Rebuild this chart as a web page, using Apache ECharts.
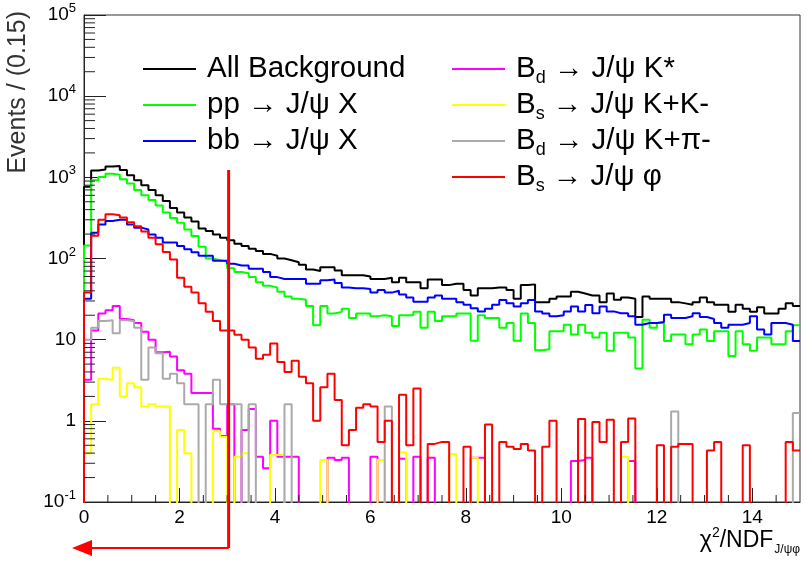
<!DOCTYPE html>
<html><head><meta charset="utf-8">
<script src="https://cdn.jsdelivr.net/npm/echarts@6/dist/echarts.min.js"></script>
<style>html,body{margin:0;padding:0;background:#fff}#c{width:806px;height:561px}</style>
</head><body><div id="c"></div>
<script>
// ---- data ----
const binWidth = 0.15;           // Events / (0.15)
const xMin = 0, xMax = 15;
const yMin = 0.1, yMax = 100000;
const xTickLabels = ['0','2','4','6','8','10','12','14'];
const yTickLabels = ['10^-1','1','10','10^2','10^3','10^4','10^5'];
const seriesNames = ['All Background','pp → J/ψ X','bb → J/ψ X','Bd → J/ψ K*','Bs → J/ψ K+K-','Bd → J/ψ K+π-','Bs → J/ψ φ'];

const allBackground = [764,1217,1250,1360,1380,1230,1060,921,800,700,
  600,510,420,370,320,285,235,218,198,180,
  168,152,143,132,124,114,108,100,95,90,
  84,73,70,78,78,71,62,62,62,60,
  56,56,58,51,58,51,51,43,55,55,
  47,49,49,41,35,43,43,44,44,41,
  32,47,48,29,29,32,34,34,39,37,
  35,35,29,37,31,33,32,19,34,32,
  32,32,29,28,27,29,33,29,27,27,
  22,27,24,22,25,21,21,24,28,26];
const ppJpsiX = [145,920,1010,1110,1080,950,840,700,600,527,
  450,370,315,275,228,189,140,100,95,92,
  76,68,66,59,51,46,44,39,34,32,
  31,26,15,26,21,22,24,18.5,21,21,
  19.5,20,19.4,14.7,20,20,22,14,22,17,
  19.5,19.5,21,21,9.7,20,18.5,18.5,14,16,
  9.7,21,16,7.4,7.6,12.7,12.7,15.3,11.6,15.3,
  12.2,10.6,12.2,7.3,12.2,12.2,10.6,4.4,17.6,14,
  16,9.6,11.6,11.6,8.8,11.6,13.3,9.6,12.7,12.7,
  6.3,12.7,8.8,7.3,10.6,10.6,8.8,8.8,12.7,15];
const bbJpsiX = [32,208,262,290,301,301,262,240,228,198,
  180,157,157,143,130,119,108,108,94,94,
  86,82,82,75,75,68,59,56,56,56,
  56,49,49,54,55,50,44,43,43,42,
  38,41,38,40,36,33,29.4,29.4,33,35,
  32,32,29,27,24.4,22.3,24,27,30.8,28,
  25.6,28,30.8,22.3,21,19.4,20,22.3,25.6,22.3,
  26.8,21.2,25.6,22.3,21.2,21.2,19.4,15.3,16,16,
  16.5,20.3,18.5,18.5,19.4,21.2,19,18,16,14,
  15.3,15.3,16,19.4,13.3,11.6,16,16,15.3,9.6];
const bdJpsiKstar = [3.2,13,21,23,26,18,17.4,16,12.5,10,
  7,7.1,6.2,4.2,3.8,2.2,2.2,2.2,0.8,0.65,
  1.6,0,0.77,1.4,0.36,0.26,1.0,0.36,0.36,0.36,
  0,0,0,0,0.35,0.33,0.35,0,0,0,
  0.36,0,0,0,0.34,0,0.36,0,0.35,0,
  0,0,0,0,0.35,0.35,0,0,0,0,
  0,0,0,0,0,0,0,0,0.32,0.33,
  0.35,0,0,0,0,0,0.32,0,0,0,
  0,0,0,0,0,0,0,0,0,0,
  0,0,0,0,0,0,0,0,0,0];
const bsJpsiKK = [0.4,1.6,3.3,3.2,4.5,2.0,2.9,2.6,1.5,1.6,
  1.5,1.5,0,0.77,0.4,0,0,0,0.75,0.63,
  0,0.36,0.4,0,0,0,0.38,0.38,0,0,
  0,0,0,0.33,0,0,0,0,0,0,
  0,0.33,0,0,0.41,0,0,0,0,0,
  0,0.39,0,0,0.35,0,0,0,0,0,
  0,0,0,0,0,0,0,0,0,0,
  0,0,0,0,0,0.36,0,0,0,0,
  0,0,0,0,0,0,0,0,0,0,
  0,0,0,0,0,0,0,0,0,0];
const bdJpsiKpi = [10,14,17,17.4,12,17.4,17,14,3.2,8,
  6.8,3.3,3.8,2.9,1.6,1.6,0,1.6,3.2,1.6,
  1.6,1.6,0,1.6,0,0,0,0,1.6,0,
  0,0,0,0,0,0,0,0,0,0,
  0,0,1.5,0,0,0,0,0,0,0,
  0,0,0,0,0,0,0,0,0,0,
  0,0,0,0,0,0,0,0,0,0,
  0,0,0,0,0,0,0,0,0,0,
  0,0,1.3,0,0,0,0,0,0,0,
  0,0,0,0,0,0,0,0,0,1.25];
const bsJpsiPhi = [38,190,300,350,340,320,280,250,215,180,
  150,120,97,58,45,38,28,22,17,13,
  13,11.5,10,8,5.8,6.5,9,5.3,4.0,5.5,
  3.5,2.9,1.0,2.6,3.8,1.8,0.5,0.77,1.45,1.6,
  1.5,0.55,1.0,0,2.1,0.5,2.5,0,0.52,0.55,
  0.55,0,0,0.48,0,0,0.9,0,0.55,0.48,
  0.45,0.52,0.43,0,0.48,1.0,0,0,0,1.05,
  0,0.97,0.55,1.03,0,0.55,1.07,0,0,0,
  0.5,0,0.48,0.52,0.52,0,0,0.43,0.55,0,
  0,0,0.5,0,0,0,0,0,0.55,0.43];

const cutValue = 3.03;   // vertical cut line position (chi2/NDF)
const cutTop = 1230;     // top of the cut line

// ---- styling ----
const F = "'Liberation Sans', Arial, Helvetica, sans-serif";
const colors = ['#000000','#00ff00','#0000ff','#ff00ff','#ffff00','#aaaaaa','#ff0000'];
const allData = [allBackground, ppJpsiX, bbJpsiX, bdJpsiKstar, bsJpsiKK, bdJpsiKpi, bsJpsiPhi];
const FLOOR = 0.001;

function histPoints(vals) {
  const pts = [[xMin, FLOOR]];
  vals.forEach((v, i) => pts.push([xMin + i * binWidth, v > 0 ? v : FLOOR]));
  const last = vals[vals.length - 1] > 0 ? vals[vals.length - 1] : FLOOR;
  pts.push([xMax, last]);
  return pts;
}

function legendFmt(name) {
  const m = name.match(/^B([ds])(.*)$/);
  if (m) return '{t0|B}{s|' + m[1] + '}{t|' + m[2] + '}';
  return '{t0|' + name + '}';
}
const legendRich = {
  t0: {fontSize: 29.5, lineHeight: 36, height: 36, fontFamily: F, color: '#000', padding: [0,0,0,6]},
  t: {fontSize: 29.5, lineHeight: 36, height: 36, fontFamily: F, color: '#000'},
  s: {fontSize: 18, fontFamily: F, color: '#000', verticalAlign: 'bottom'}
};

// minor ticks (axis decoration)
const yMinor = [];
for (let k = -1; k <= 4; k++) for (let m = 2; m <= 9; m++) yMinor.push([xMin, m * Math.pow(10, k)]);
const xMinor = [];
for (let t = 0.5; t < xMax; t += 0.5) if (Math.abs(t / 2 - Math.round(t / 2)) > 1e-6) xMinor.push([t, yMin]);

const chart = echarts.init(document.getElementById('c'), null, {renderer: 'canvas'});

const series = seriesNames.map((n, i) => ({
  name: n, type: 'line', step: 'end', data: histPoints(allData[i]),
  showSymbol: false, symbol: 'none', clip: true, color: colors[i],
  lineStyle: {color: colors[i], width: 2}, z: 2 + i, animation: false
}));
series.push({
  type: 'custom', silent: true, data: yMinor, z: 20,
  renderItem: (p, api) => {
    const c = api.coord([api.value(0), api.value(1)]);
    return {type: 'line', shape: {x1: c[0], y1: c[1], x2: c[0] + 11, y2: c[1]}, style: {stroke: '#222', lineWidth: 1}};
  }
});
series.push({
  type: 'custom', silent: true, data: xMinor, z: 20,
  renderItem: (p, api) => {
    const c = api.coord([api.value(0), api.value(1)]);
    return {type: 'line', shape: {x1: c[0], y1: c[1], x2: c[0], y2: c[1] - 7}, style: {stroke: '#222', lineWidth: 1}};
  }
});

chart.setOption({
  animation: false,
  backgroundColor: '#fff',
  grid: {left: 84, right: 6, top: 15, bottom: 59, show: true, borderColor: '#333', borderWidth: 1},
  xAxis: {
    type: 'value', min: xMin, max: xMax, interval: 2,
    axisLine: {show: true, onZero: false, lineStyle: {color: '#222', width: 1}},
    axisTick: {show: true, inside: true, length: 14, lineStyle: {color: '#222'}},
    splitLine: {show: false},
    axisLabel: {fontSize: 19, color: '#000', fontFamily: F, margin: 6, showMaxLabel: false,
      formatter: v => { const i = Math.round(v / 2); return (Math.abs(v - i * 2) < 1e-6 && xTickLabels[i] !== undefined) ? xTickLabels[i] : ''; }}
  },
  yAxis: {
    type: 'log', logBase: 10, min: yMin, max: yMax,
    axisLine: {show: true, lineStyle: {color: '#222', width: 1}},
    axisTick: {show: true, inside: true, length: 22, lineStyle: {color: '#222'}},
    splitLine: {show: false},
    axisLabel: {
      margin: 8, color: '#000', fontFamily: F,
      formatter: v => {
        const k = Math.round(Math.log10(v));
        const lbl = yTickLabels[k + 1];
        if (!lbl) return '';
        const parts = lbl.split('^');
        return parts.length > 1 ? '{b|' + parts[0] + '}{e|' + parts[1] + '}' : '{b|' + parts[0] + '}';
      },
      rich: {
        b: {fontSize: 19, lineHeight: 26, fontFamily: F, color: '#000'},
        e: {fontSize: 13, fontFamily: F, color: '#000', verticalAlign: 'top'}
      }
    }
  },
  legend: [
    {data: seriesNames.slice(0, 3), orient: 'vertical', left: 143, top: 51, padding: 0, itemWidth: 53, itemHeight: 2,
     itemGap: 0, icon: 'rect', selectedMode: false, formatter: legendFmt, textStyle: {rich: legendRich}},
    {data: seriesNames.slice(3), orient: 'vertical', left: 452, top: 51, padding: 0, itemWidth: 53, itemHeight: 2,
     itemGap: 0, icon: 'rect', selectedMode: false, formatter: legendFmt, textStyle: {rich: legendRich}}
  ],
  series: series
});

const pTop = chart.convertToPixel({gridIndex: 0}, [cutValue, cutTop]);
const pOrigin = chart.convertToPixel({gridIndex: 0}, [xMin, yMin]);
const arrowY = pOrigin[1] + 46;
const tipX = pOrigin[0] - 12;

chart.setOption({
  graphic: [
    {type: 'line', shape: {x1: pTop[0], y1: pTop[1], x2: pTop[0], y2: arrowY}, style: {stroke: '#ff0000', lineWidth: 3}, z: 100},
    {type: 'line', shape: {x1: pTop[0], y1: arrowY, x2: tipX + 12, y2: arrowY}, style: {stroke: '#ff0000', lineWidth: 2}, z: 100},
    {type: 'polygon', shape: {points: [[tipX, arrowY], [tipX + 20, arrowY - 8], [tipX + 20, arrowY + 8]]}, style: {fill: '#ff0000'}, z: 100},
    {type: 'text', x: 18, y: 11, rotation: Math.PI / 2,
     style: {text: 'Events / (0.15)', font: '25px ' + F, fill: '#333', align: 'right', verticalAlign: 'middle'}},
    {type: 'text', x: 800, y: 541,
     style: {text: '{a|χ}{p|2}{a|/NDF}{d|J/ψφ}', align: 'right', verticalAlign: 'middle', fill: '#000',
       rich: {
         a: {fontSize: 23, lineHeight: 30, fontFamily: F, color: '#000'},
         p: {fontSize: 14, fontFamily: F, verticalAlign: 'top', color: '#000'},
         d: {fontSize: 12, fontFamily: F, verticalAlign: 'bottom', color: '#000', padding: [10,0,0,1]}
       }}}
  ]
});
</script>
</body></html>
